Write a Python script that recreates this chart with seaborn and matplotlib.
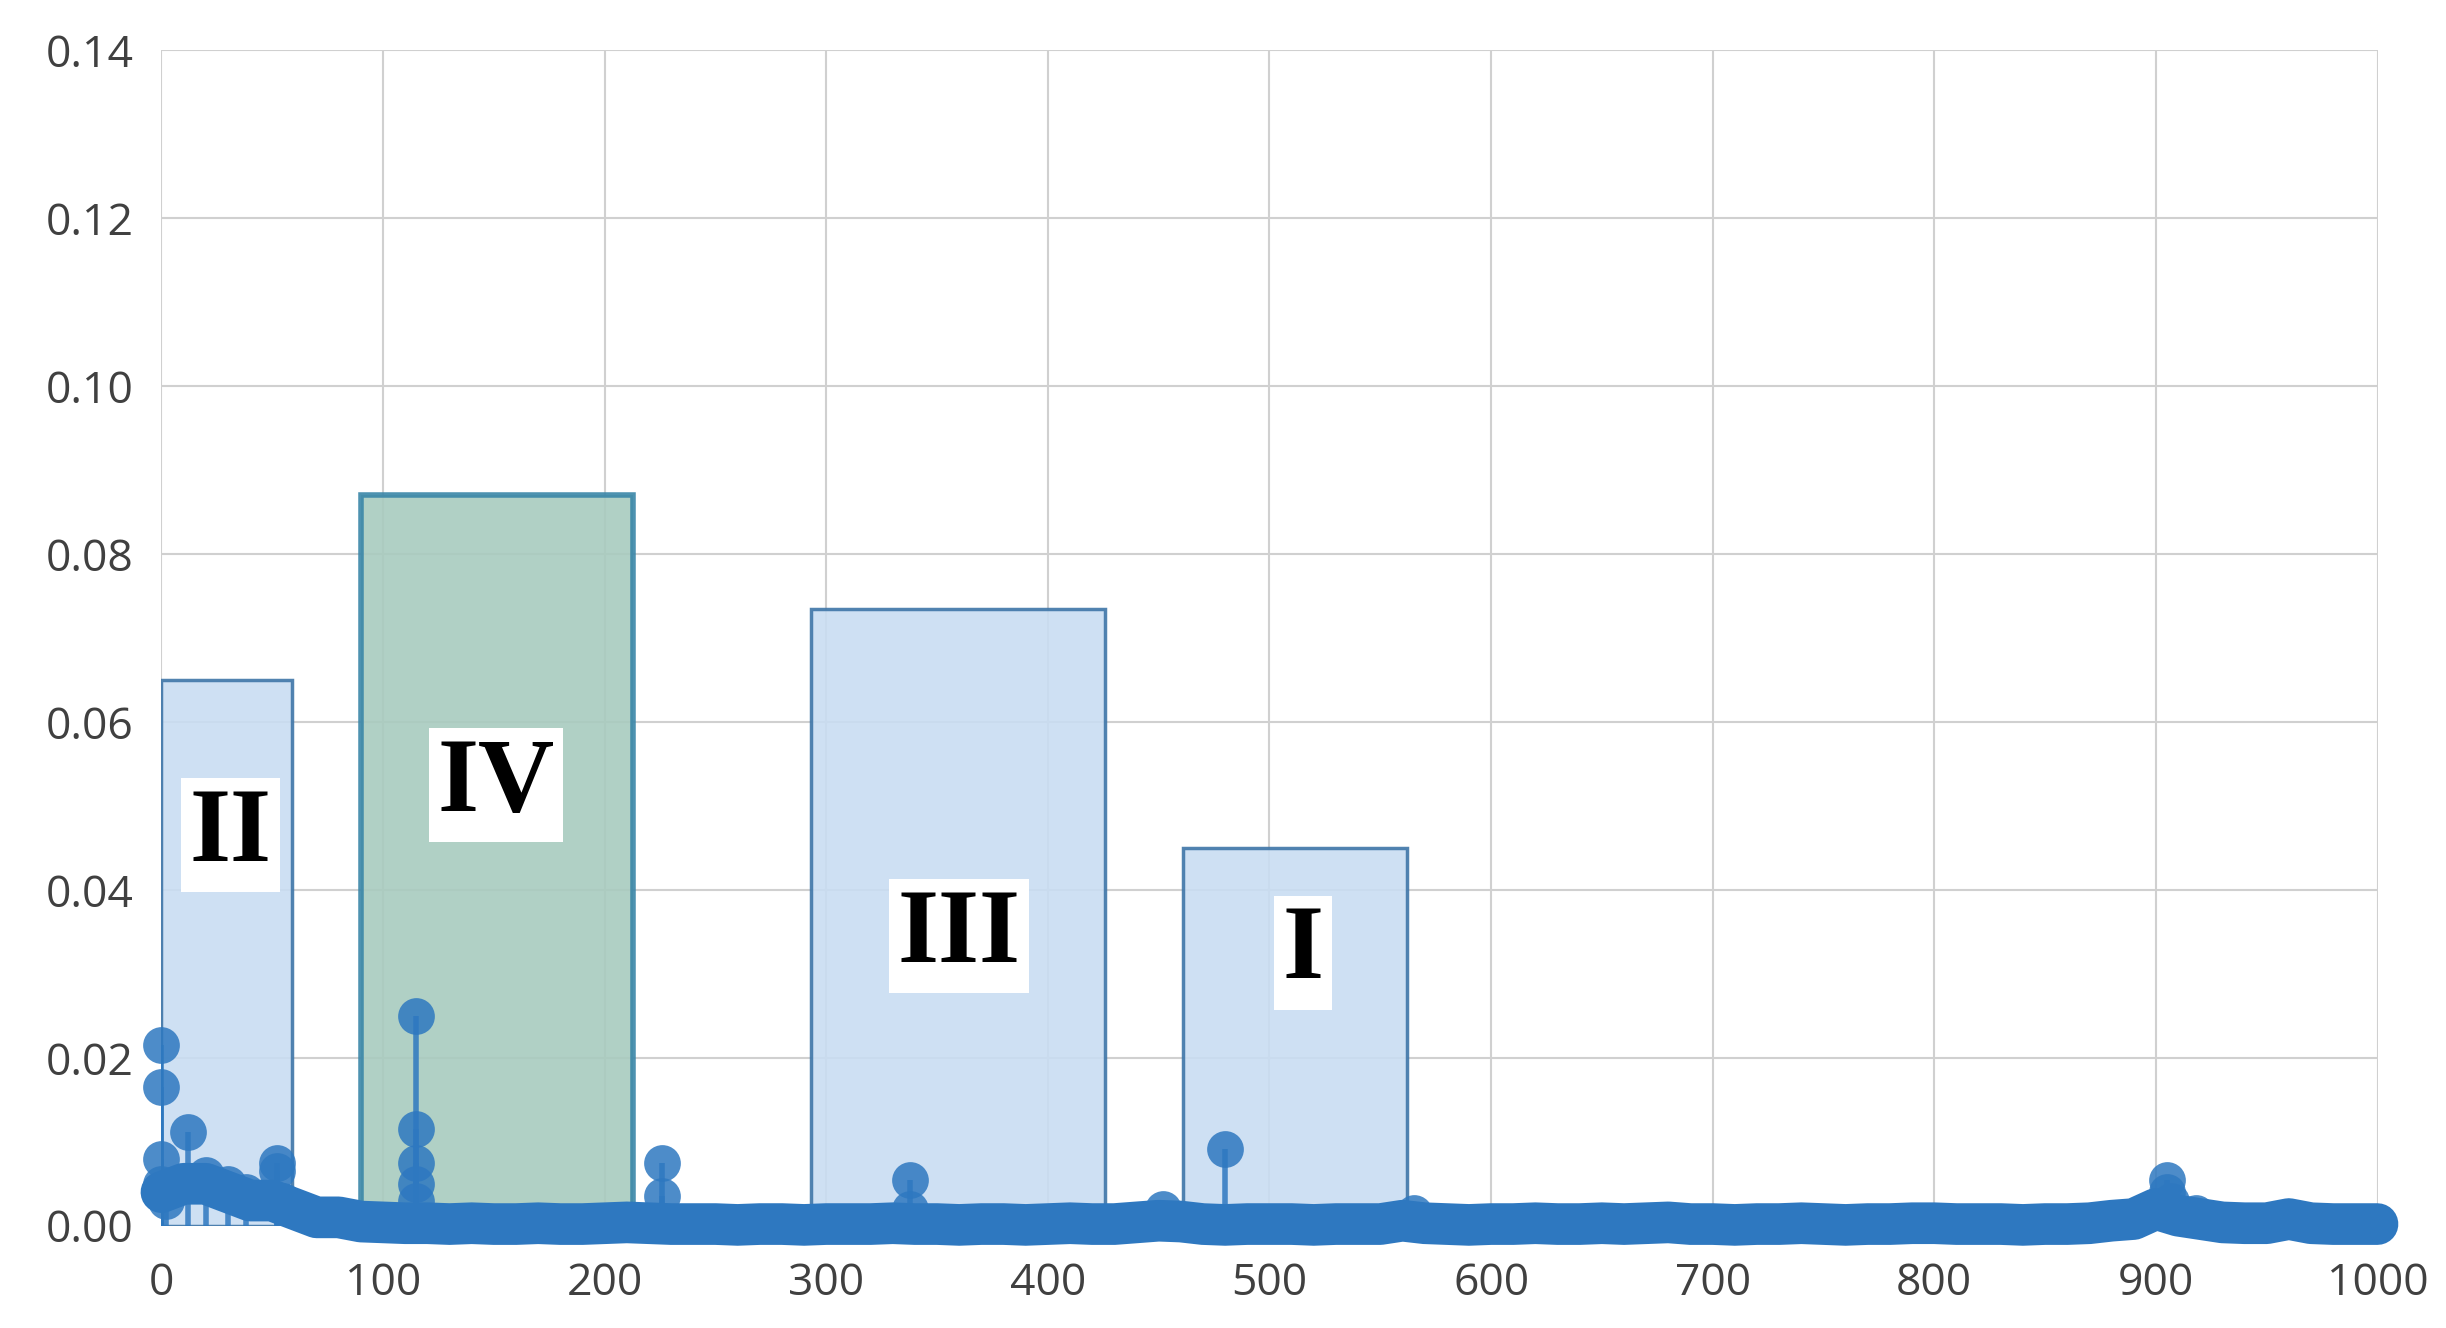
import numpy as np
import pandas as pd
import matplotlib
matplotlib.use("Agg")
import matplotlib.pyplot as plt
from matplotlib.patches import Rectangle
import seaborn as sns

# ── Data ──────────────────────────────────────────────────────────────────────
# prominent stems (x, y)
spike_x = [0, 0, 0, 0, 2, 12, 20, 30, 38, 52, 52, 55, 78,
           115, 115, 115, 115, 115, 226, 226, 338, 338, 452,
           480, 565, 905, 905, 907, 918, 960]
spike_y = [0.0215, 0.0165, 0.008, 0.005, 0.003, 0.0112, 0.006, 0.005, 0.004,
           0.0075, 0.0065, 0.003, 0.0012,
           0.025, 0.0115, 0.0075, 0.005, 0.003, 0.0075, 0.0035, 0.0055, 0.002,
           0.002, 0.0092, 0.0015, 0.0055, 0.004, 0.003, 0.0015, 0.001]

# low-level background coefficients, every 10 samples 0..1000
base_x = list(range(0, 1001, 10))
base_y = [0.004, 0.005, 0.005, 0.004, 0.003, 0.003, 0.002, 0.001, 0.001, 0.0005,
          0.0004, 0.0003, 0.0003, 0.0002, 0.0003, 0.0002, 0.0002, 0.0003, 0.0002, 0.0002,
          0.0003, 0.0004, 0.0003, 0.0002, 0.0002, 0.0002, 0.0001, 0.0002, 0.0002, 0.0001,
          0.0002, 0.0002, 0.0002, 0.0003, 0.0002, 0.0002, 0.0001, 0.0002, 0.0002, 0.0001,
          0.0002, 0.0003, 0.0002, 0.0002, 0.0004, 0.0006, 0.0005, 0.0002, 0.0001, 0.0002,
          0.0002, 0.0002, 0.0001, 0.0002, 0.0002, 0.0002, 0.0006, 0.0003, 0.0002, 0.0001,
          0.0002, 0.0002, 0.0003, 0.0002, 0.0002, 0.0003, 0.0002, 0.0003, 0.0004, 0.0002,
          0.0002, 0.0001, 0.0002, 0.0002, 0.0003, 0.0002, 0.0001, 0.0002, 0.0002, 0.0003,
          0.0003, 0.0002, 0.0002, 0.0002, 0.0001, 0.0002, 0.0002, 0.0003, 0.0006, 0.0008,
          0.002, 0.0012, 0.0008, 0.0004, 0.0003, 0.0003, 0.0008, 0.0003, 0.0002, 0.0002,
          0.0002]

# highlighted regions
region_names = ["II", "IV", "III", "I"]
region_x0 = [0, 90, 293, 461]
region_x1 = [59, 213, 426, 562]
region_y0 = [0.0, 0.0015, 0.0, 0.0]
region_y1 = [0.065, 0.087, 0.0735, 0.045]
label_x = [31, 151, 360, 515]
label_y = [0.0465, 0.0525, 0.0345, 0.0325]

BLUE = "#2E78C0"

# ── Plot ──────────────────────────────────────────────────────────────────────
sns.set_style("whitegrid")
fig = plt.figure(figsize=(24.46, 13.28), dpi=100)
ax = fig.add_axes([0.066, 0.077, 0.906, 0.885])

for name, x0, x1, y0, y1 in zip(region_names, region_x0, region_x1, region_y0, region_y1):
    if name == "IV":
        fc, ec, lw = "#A8CBBF", "#3A86A8", 4
    else:
        fc, ec, lw = "#C9DDF2", "#3F76A8", 2.5
    ax.add_patch(Rectangle((x0, y0), x1 - x0, y1 - y0, facecolor=fc,
                           edgecolor=ec, lw=lw, alpha=0.9, zorder=1))

df_spike = pd.DataFrame({"x": spike_x, "y": spike_y})
df_base = pd.DataFrame({"x": base_x, "y": base_y})

ax.vlines(df_spike["x"], 0, df_spike["y"], color=BLUE, lw=4, zorder=2, alpha=0.85)
ax.plot(df_base["x"], df_base["y"], color=BLUE, lw=30, solid_capstyle="round",
        zorder=3, clip_on=False)
sns.scatterplot(data=df_base, x="x", y="y", ax=ax, s=700, color=BLUE,
                edgecolor=BLUE, linewidth=0, zorder=3, clip_on=False)
sns.scatterplot(data=df_spike, x="x", y="y", ax=ax, s=700, color=BLUE,
                edgecolor=BLUE, linewidth=0, alpha=0.85, zorder=4, clip_on=False)

for name, lx, ly in zip(region_names, label_x, label_y):
    ax.text(lx, ly, name, ha="center", va="center", fontsize=76, fontweight="bold",
            family="Liberation Serif", color="black", zorder=5,
            bbox=dict(facecolor="white", edgecolor="none", pad=6))

ax.set_xlim(0, 1000)
ax.set_ylim(0, 0.14)
ax.set_xticks(range(0, 1001, 100))
ax.set_yticks(np.arange(0, 0.141, 0.02))
ax.set_yticklabels([f"{v:.2f}" for v in np.arange(0, 0.141, 0.02)])
ax.set_xlabel("")
ax.set_ylabel("")
ax.grid(True, color="#D0D0D0", lw=1.5)
for s in ax.spines.values():
    s.set_visible(False)
ax.tick_params(axis="both", labelsize=32, colors="#404040", length=0)
ax.tick_params(axis="x", pad=26)
ax.tick_params(axis="y", pad=20)
for lab in ax.get_xticklabels() + ax.get_yticklabels():
    lab.set_family("Open Sans")

fig.savefig("out.png", dpi=100)
